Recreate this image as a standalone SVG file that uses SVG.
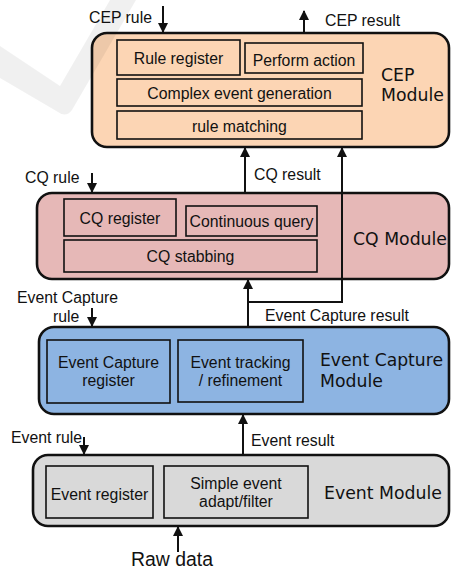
<svg xmlns="http://www.w3.org/2000/svg" width="451" height="576" viewBox="0 0 451 576">
  <style>
    .mod { stroke: #111; stroke-width: 2.6; }
    .box { stroke: #111; stroke-width: 1.6; }
    .cep { fill: #FCD5B4; }
    .cq { fill: #E6B8B7; }
    .ec { fill: #8DB4E2; }
    .ev { fill: #D9D9D9; }
    .t { font-family: "Liberation Sans", Arial, sans-serif; font-size: 15.8px; fill: #111; }
    .tm { font-family: "DejaVu Sans", Verdana, sans-serif; font-size: 17.3px; fill: #111; }
    .c { text-anchor: middle; }
    .wire { stroke: #111; stroke-width: 2; fill: none; }
  </style>
  <defs>
    <marker id="head" viewBox="0 0 10 10" refX="9" refY="5" markerWidth="5" markerHeight="5" orient="auto" markerUnits="strokeWidth">
      <path d="M0,0 L10,5 L0,10 z" fill="#111"/>
    </marker>
  </defs>
  <rect width="451" height="576" fill="#fff"/>

  <g id="cep-module">
    <rect class="mod cep" x="92" y="33" width="357" height="114" rx="15"/>
    <rect class="box cep" x="117" y="40" width="123" height="35"/>
    <text class="t c" x="178.5" y="64">Rule register</text>
    <rect class="box cep" x="245" y="43" width="118" height="30"/>
    <text class="t c" x="304" y="65.5">Perform action</text>
    <rect class="box cep" x="117" y="79" width="245" height="27"/>
    <text class="t c" x="239.5" y="98.5">Complex event generation</text>
    <rect class="box cep" x="117" y="111" width="245" height="28"/>
    <text class="t c" x="239.5" y="132">rule matching</text>
    <text class="tm" x="381" y="81">CEP</text>
    <text class="tm" x="381" y="100.5">Module</text>
  </g>

  <g id="cq-module">
    <rect class="mod cq" x="37" y="193" width="412" height="86" rx="15"/>
    <rect class="box cq" x="64" y="199" width="112" height="37"/>
    <text class="t c" x="120" y="224">CQ register</text>
    <rect class="box cq" x="186" y="206" width="131" height="30"/>
    <text class="t c" x="251.5" y="227">Continuous query</text>
    <rect class="box cq" x="64" y="240" width="253" height="32"/>
    <text class="t c" x="190.5" y="262">CQ stabbing</text>
    <text class="tm" x="353" y="244.5">CQ Module</text>
  </g>

  <g id="event-capture-module">
    <rect class="mod ec" x="39" y="327" width="410" height="87" rx="15"/>
    <rect class="box ec" x="47" y="340" width="123" height="63"/>
    <text class="t c" x="108.5" y="368">Event Capture</text>
    <text class="t c" x="108.5" y="386">register</text>
    <rect class="box ec" x="178" y="340" width="125" height="62"/>
    <text class="t c" x="240.5" y="367.5">Event tracking</text>
    <text class="t c" x="240.5" y="386">/ refinement</text>
    <text class="tm" x="320" y="365.5" textLength="123" lengthAdjust="spacingAndGlyphs">Event Capture</text>
    <text class="tm" x="320" y="386.5">Module</text>
  </g>

  <g id="event-module">
    <rect class="mod ev" x="33" y="455" width="416" height="71" rx="15"/>
    <rect class="box ev" x="46" y="466" width="107" height="52"/>
    <text class="t c" x="99.5" y="499.5">Event register</text>
    <rect class="box ev" x="164" y="466" width="144" height="52"/>
    <text class="t c" x="236" y="488.5">Simple event</text>
    <text class="t c" x="236" y="506.5">adapt/filter</text>
    <text class="tm" x="324" y="499">Event Module</text>
  </g>

  <g id="connectors">
    <line class="wire" x1="163" y1="6" x2="163" y2="32" marker-end="url(#head)"/>
    <line class="wire" x1="304" y1="33" x2="304" y2="11" marker-end="url(#head)"/>
    <line class="wire" x1="245" y1="193" x2="245" y2="148" marker-end="url(#head)"/>
    <line class="wire" x1="92" y1="173" x2="92" y2="192" marker-end="url(#head)"/>
    <line class="wire" x1="248" y1="327" x2="248" y2="280" marker-end="url(#head)"/>
    <polyline class="wire" points="248,302 342,302 342,148" marker-end="url(#head)"/>
    <line class="wire" x1="92" y1="308" x2="92" y2="326" marker-end="url(#head)"/>
    <line class="wire" x1="84" y1="437" x2="84" y2="454" marker-end="url(#head)"/>
    <line class="wire" x1="243" y1="455" x2="243" y2="415" marker-end="url(#head)"/>
    <line class="wire" x1="178" y1="552" x2="178" y2="527" marker-end="url(#head)"/>
  </g>

  <g id="labels">
    <text class="t" x="89" y="23">CEP rule</text>
    <text class="t" x="325" y="26">CEP result</text>
    <text class="t" x="25" y="183">CQ rule</text>
    <text class="t" x="254" y="179.5">CQ result</text>
    <text class="t" x="17" y="303">Event Capture</text>
    <text class="t" x="53" y="322">rule</text>
    <text class="t" x="265" y="320.5">Event Capture result</text>
    <text class="t" x="11" y="443">Event rule</text>
    <text class="t" x="251" y="446">Event result</text>
    <text class="t" x="131" y="566" style="font-size:19.4px">Raw data</text>
  </g>

  <!-- faint check-mark shape laid over the top-left corner -->
  <path d="M0,46 L60,86 L110,0 L136,0 L72,110 Q66,118 58,112 L0,78 Z" fill="#000" fill-opacity="0.06"/>
</svg>
